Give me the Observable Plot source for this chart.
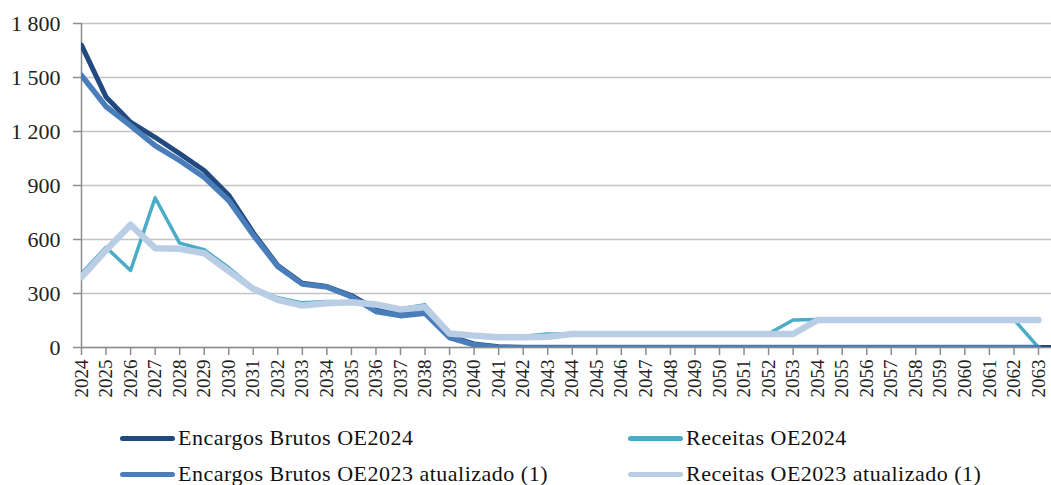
<!DOCTYPE html>
<html>
<head>
<meta charset="utf-8">
<script src="https://cdn.jsdelivr.net/npm/d3@7"></script>
<script src="https://cdn.jsdelivr.net/npm/@observablehq/plot@0.6"></script>
<style>
  html, body { margin: 0; padding: 0; background: #fff; }
  #wrap { position: relative; width: 1051px; height: 485px; font-family: "Liberation Serif", "Times New Roman", serif; }
  #wrap svg text { font-family: "Liberation Serif", "Times New Roman", serif; }
  .leg { position: absolute; display: flex; align-items: center; font-size: 22px; letter-spacing: 0.5px; color: #111; white-space: nowrap; }
  .leg .sw { width: 55px; height: 5px; border-radius: 3px; margin-right: 3px; }
</style>
</head>
<body>
<div id="wrap"></div>
<script>
// Categories (years); 2064 only carries the trailing point of the dark series, cut off at the frame edge
const years = [2024,2025,2026,2027,2028,2029,2030,2031,2032,2033,2034,2035,2036,2037,2038,2039,2040,2041,2042,2043,
               2044,2045,2046,2047,2048,2049,2050,2051,2052,2053,2054,2055,2056,2057,2058,2059,2060,2061,2062,2063,2064];
const tickYears = [2024,2025,2026,2027,2028,2029,2030,2031,2032,2033,2034,2035,2036,2037,2038,2039,2040,2041,2042,2043,
               2044,2045,2046,2047,2048,2049,2050,2051,2052,2053,2054,2055,2056,2057,2058,2059,2060,2061,2062,2063];
const yTicks = [0, 300, 600, 900, 1200, 1500, 1800];

const encargosOE2024 = [1680,1392,1252,1168,1077,983,846,638,455,357,339,289,210,185,200,62,20,4,0,0,
                        0,0,0,0,0,0,0,0,0,0,0,0,0,0,0,0,0,0,0,0,0];
const receitasOE2024 = [411,557,428,832,580,543,443,332,276,248,255,253,240,215,237,80,66,58,62,75,
                        76,76,76,76,76,76,76,76,76,153,155,155,155,155,155,155,155,155,155,0,null];
const encargosOE2023 = [1511,1339,1233,1122,1039,946,817,625,450,352,336,282,200,177,190,55,15,0,0,0,
                        0,0,0,0,0,0,0,0,0,0,0,0,0,0,0,0,0,0,0,0,null];
const receitasOE2023 = [391,540,682,552,548,524,424,326,265,233,246,252,239,211,224,78,66,57,57,60,
                        75,75,75,75,75,75,75,75,75,75,153,153,153,153,153,153,153,153,153,153,null];

const series = [
  {name: "Encargos Brutos OE2024", values: encargosOE2024, color: "#234a7f", width: 5},
  {name: "Receitas OE2024", values: receitasOE2024, color: "#4bacc6", width: 3.5},
  {name: "Encargos Brutos OE2023 atualizado (1)", values: encargosOE2023, color: "#4a7ebb", width: 5.5},
  {name: "Receitas OE2023 atualizado (1)", values: receitasOE2023, color: "#b9cde5", width: 6.5}
];

const fmt = v => v >= 1000 ? `${Math.floor(v / 1000)} ${String(v % 1000).padStart(3, "0")}` : String(v);

const lineMarks = series.map(s => Plot.line(
  years.map((y, i) => ({year: y, value: s.values[i]})),
  {x: "year", y: "value", stroke: s.color, strokeWidth: s.width,
   strokeLinecap: "round", strokeLinejoin: "round", clip: true}
));

const chart = Plot.plot({
  width: 1051,
  height: 410,
  marginLeft: 81,
  marginRight: 0,
  marginTop: 23,
  marginBottom: 63,
  style: {fontFamily: "'Liberation Serif', 'Times New Roman', serif", background: "#fff", color: "#222"},
  x: {domain: [2024, 2063.53], type: "linear"},
  y: {domain: [0, 1800]},
  marks: [
    Plot.gridY(yTicks, {stroke: "#c4c4c4", strokeOpacity: 1, strokeWidth: 1.5}),
    Plot.ruleX([2024], {stroke: "#8c8c8c", strokeWidth: 1.5}),
    Plot.ruleY([0], {stroke: "#8c8c8c", strokeWidth: 1.5}),
    Plot.axisY(yTicks, {tickSize: 8, tickPadding: 13, tickFormat: fmt, stroke: "#8c8c8c",
      strokeWidth: 1.5, fontSize: 22, fill: "#222", label: null}),
    Plot.axisX(tickYears, {tickSize: 8, tickPadding: 4, tickRotate: -90, tickFormat: d => String(d),
      stroke: "#8c8c8c", strokeWidth: 1.5, fontSize: 19, fill: "#222", label: null}),
    ...lineMarks
  ]
});

const wrap = document.getElementById("wrap");
wrap.appendChild(chart);

const legendPos = [
  {left: 120, top: 438}, {left: 628, top: 438},
  {left: 120, top: 474}, {left: 628, top: 474}
];
series.forEach((s, i) => {
  const d = document.createElement("div");
  d.className = "leg";
  d.style.left = legendPos[i].left + "px";
  d.style.top = (legendPos[i].top - 13) + "px";
  d.style.height = "26px";
  const sw = document.createElement("span");
  sw.className = "sw";
  sw.style.background = s.color;
  const t = document.createElement("span");
  t.textContent = s.name;
  d.appendChild(sw);
  d.appendChild(t);
  wrap.appendChild(d);
});
</script>
</body>
</html>
